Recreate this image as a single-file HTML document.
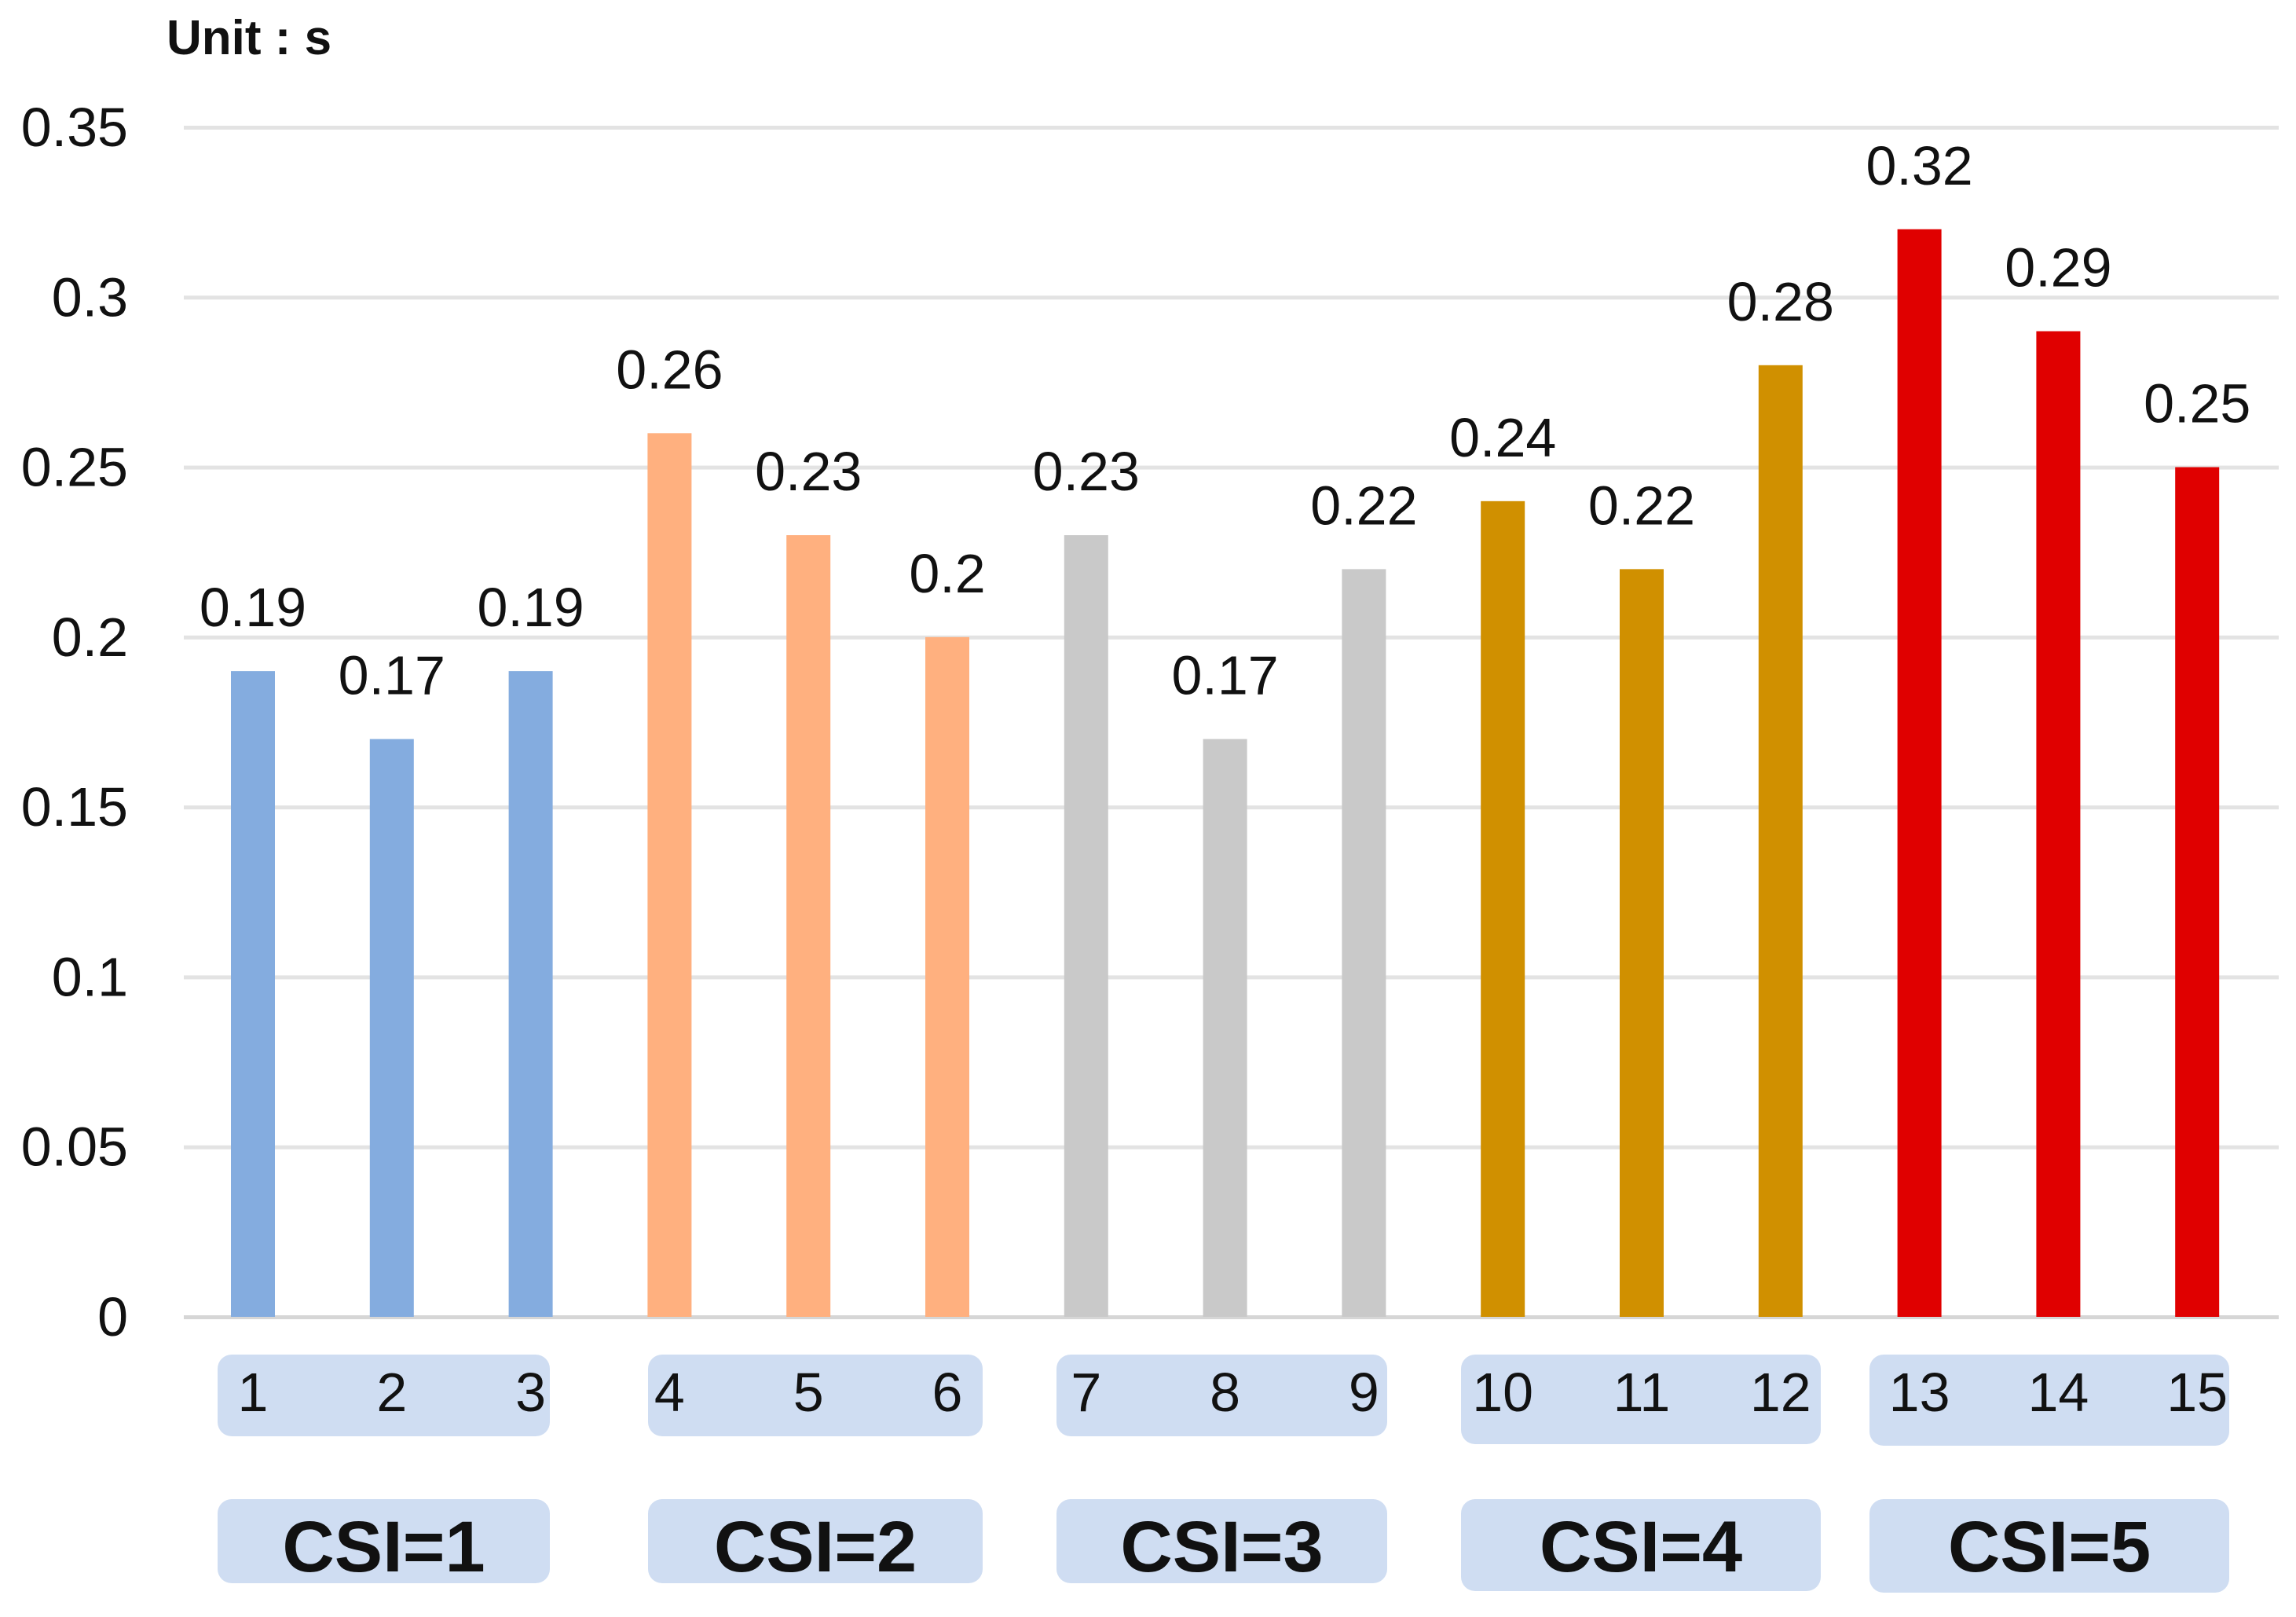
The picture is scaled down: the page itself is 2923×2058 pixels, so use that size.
<!DOCTYPE html>
<html><head><meta charset="utf-8"><style>
html,body{margin:0;padding:0;background:#fff;}
svg{display:block;}
text{font-family:"Liberation Sans",sans-serif;fill:#111;}
</style></head><body>
<svg id="chart" width="2923" height="2058" viewBox="0 0 2923 2058" xmlns="http://www.w3.org/2000/svg">
<text x="212" y="69" font-size="62" font-weight="bold">Unit : s</text>
<g id="grid"></g><g id="bars"></g><g id="boxes"></g>
</svg>
<script>
const categories = ['1','2','3','4','5','6','7','8','9','10','11','12','13','14','15'];
const values = [0.19,0.17,0.19,0.26,0.23,0.2,0.23,0.17,0.22,0.24,0.22,0.28,0.32,0.29,0.25];
const valueLabels = ['0.19','0.17','0.19','0.26','0.23','0.2','0.23','0.17','0.22','0.24','0.22','0.28','0.32','0.29','0.25'];
const yTicks = [0,0.05,0.1,0.15,0.2,0.25,0.3,0.35];
const yTickLabels = ['0','0.05','0.1','0.15','0.2','0.25','0.3','0.35'];
const groups = ['CSI=1','CSI=2','CSI=3','CSI=4','CSI=5'];
const groupColors = ['#84acdf','#ffb07f','#c9c9c9','#d09000','#e00000'];

const NS='http://www.w3.org/2000/svg';
const y0=1676, yTop=162, pxPerUnit=(y0-yTop)/0.35;
const yScale=v=>y0-v*pxPerUnit;
const x0=322, step=176.8;
const xScale=i=>x0+i*step;
const boxL=[277,825,1345,1860,2380], boxR=[700,1251,1766,2318,2838], boxExtra=[0,0,0,10,12];
function mk(tag,attrs,parent,txt){const e=document.createElementNS(NS,tag);for(const k in attrs)e.setAttribute(k,attrs[k]);if(txt!==undefined)e.textContent=txt;parent.appendChild(e);return e;}
const grid=document.getElementById('grid'),bars=document.getElementById('bars'),boxes=document.getElementById('boxes');
yTicks.forEach((t,i)=>{
  const y=yScale(t);
  const l=mk('rect',{x:234,y:y-2,width:2667,height:5,fill:i===0?'#d6d6d6':'#e3e3e3'},grid);
  
  
  const tx=mk('text',{x:163,y:y+24,'font-size':70,'text-anchor':'end'},grid,yTickLabels[i]);
  
  
});
values.forEach((v,i)=>{
  const cx=xScale(i), g=Math.floor(i/3);
  const r=mk('rect',{x:cx-28,y:yScale(v),width:56,height:y0-yScale(v),fill:groupColors[g]},bars);
  
  
  const t=mk('text',{x:cx,y:yScale(v)-57,'font-size':70,'text-anchor':'middle'},bars,valueLabels[i]);
  
  
});
groups.forEach((name,g)=>{
  const left=boxL[g], right=boxR[g], extra=boxExtra[g];
  const b=mk('rect',{x:left,y:1724,width:right-left,height:104+extra,rx:18,fill:'#cfddf2'},boxes);
  
  
  const c=mk('rect',{x:left,y:1908,width:right-left,height:107+extra,rx:18,fill:'#cfddf2'},boxes);
  
  
  const ct=mk('text',{x:(left+right)/2,y:2000,'font-size':92,'font-weight':'bold','text-anchor':'middle'},boxes,name);
  
  
});
categories.forEach((c,i)=>{
  const t=mk('text',{x:xScale(i),y:1796,'font-size':70,'text-anchor':'middle'},boxes,c);
  
  
});
</script>
</body></html>
